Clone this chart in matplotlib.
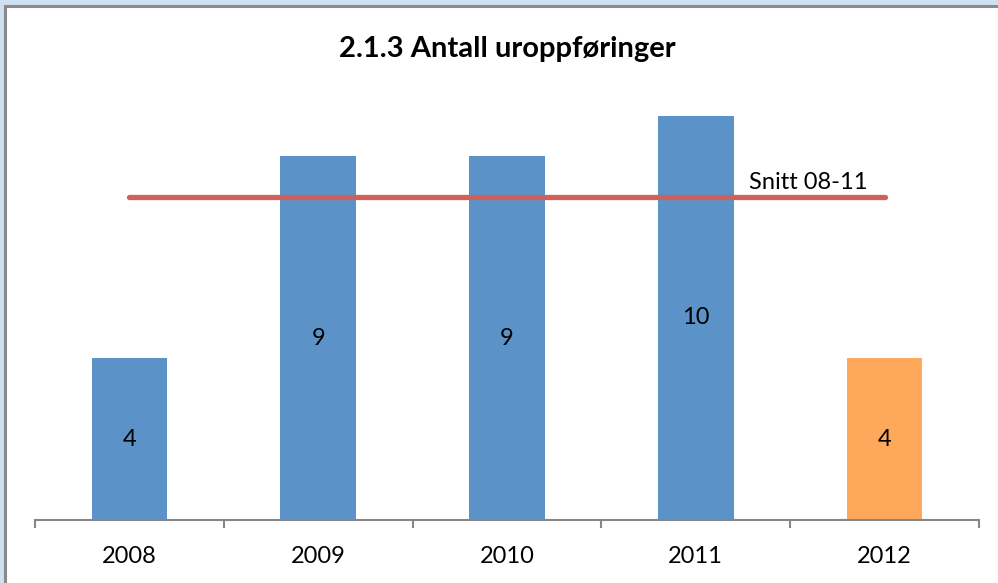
import matplotlib.pyplot as plt
import matplotlib.patches as patches
import numpy as np

years = ['2008', '2009', '2010', '2011', '2012']
counts = [4, 9, 9, 10, 4]
bar_colors = ['#5b93c8', '#5b93c8', '#5b93c8', '#5b93c8', '#fda85b']
avg_label = 'Snitt 08-11'
avg_value = np.mean(counts[:4])

plt.rcParams['font.family'] = ['Lato', 'DejaVu Sans']

fig = plt.figure(figsize=(9.98, 5.83), dpi=100, facecolor='#cfe0f1')

# white chart area with grey frame (right/bottom cut off like the screenshot)
frame = patches.Rectangle((5 / 998, -0.05), 1.1, (583 - 6) / 583 + 0.05,
                          transform=fig.transFigure, facecolor='white',
                          edgecolor='#8a8a8a', linewidth=2.2, zorder=-10)
fig.patches.append(frame)

ax = fig.add_axes([35 / 998, 63 / 583, 944 / 998, 444.4 / 583])
ax.set_facecolor('none')

x = np.arange(len(years))
ax.bar(x, counts, width=0.4, color=bar_colors, zorder=2)

for xi, v in zip(x, counts):
    ax.text(xi, v / 2, str(v), ha='center', va='center', fontsize=17, color='black', zorder=4)

ax.plot([x[0], x[-1]], [avg_value, avg_value], color='#d0605a', linewidth=3.8,
        solid_capstyle='round', zorder=3)
ax.text(3.28, avg_value + 0.1, avg_label, ha='left', va='bottom', fontsize=17, zorder=4)

ax.set_xlim(-0.5, 4.5)
ax.set_ylim(0, 11)
ax.set_xticks(x)
ax.set_xticklabels(years, fontsize=17)
ax.set_xticks(np.arange(-0.5, 5, 1), minor=True)
ax.tick_params(axis='x', which='major', length=0, pad=19)
ax.tick_params(axis='x', which='minor', length=6, width=1.5, color='#868686', direction='out')
ax.set_yticks([])
for s in ['top', 'right', 'left']:
    ax.spines[s].set_visible(False)
ax.spines['bottom'].set_color('#868686')
ax.spines['bottom'].set_linewidth(1.5)

fig.text(507 / 998, 1 - 49 / 583, '2.1.3 Antall uroppføringer', ha='center', va='center',
         fontsize=21, fontweight='bold')

fig.savefig('out.png', dpi=100, facecolor=fig.get_facecolor())
